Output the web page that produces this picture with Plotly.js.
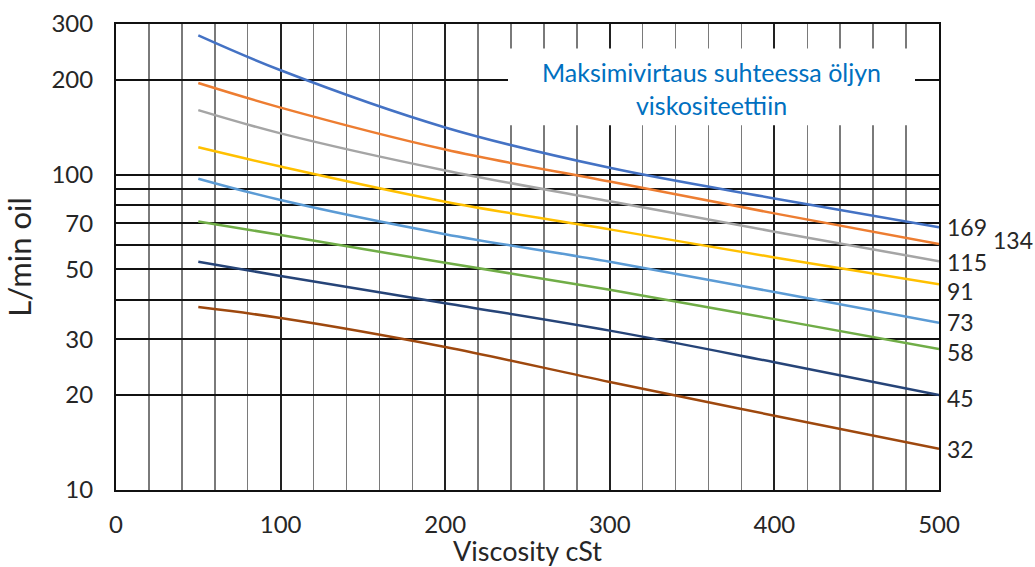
<!DOCTYPE html>
<html><head><meta charset="utf-8">
<script src="https://cdn.plot.ly/plotly-3.0.1.min.js"></script>
<style>html,body{margin:0;padding:0;background:#fff}#chart{width:1035px;height:567px}</style>
</head><body><div id="chart"></div>
<script>
// ---- data ----
const viscosity = [50, 100, 200, 300, 400, 500];
const seriesLabels = ['169', '134', '115', '91', '73', '58', '45', '32'];
const s169 = [276, 214, 141, 105, 84, 68];
const s134 = [195, 163, 120, 95, 75.3, 60.2];
const s115 = [160, 135, 103, 82.3, 65.9, 53.1];
const s91  = [122, 106, 82, 67, 54.6, 44.9];
const s73  = [97, 83, 64.7, 52.9, 42.4, 33.9];
const s58  = [71, 64.3, 52.5, 43.1, 34.8, 28];
const s45  = [52.9, 47.7, 39.1, 32, 25.4, 20];
const s32  = [38, 35.1, 28.4, 22, 17.2, 13.5];
const yTickVals = [10, 20, 30, 40, 50, 60, 70, 80, 90, 100, 200, 300];
const yTickText = ['10', '20', '30', '', '50', '', '70', '', '', '100', '200', '300'];
const xTickVals = [0, 100, 200, 300, 400, 500];
const chartTitle = 'Maksimivirtaus suhteessa öljyn<br>viskositeettiin';
const xTitle = 'Viscosity cSt';
const yTitle = 'L/min oil';

// ---- styles ----
const allSeries = [s169, s134, s115, s91, s73, s58, s45, s32];
const colors = ['#4472C4', '#ED7D31', '#A5A5A5', '#FFC000', '#5B9BD5', '#70AD47', '#264478', '#9E480E'];
const labelShift = [[6, 0], [52, 4], [6, -1], [6, -7], [6, 1], [6, -3], [6, -3], [6, 0]];
const FONT = 'Lato, "Open Sans", sans-serif';
const TXT = '#262626';

const traces = allSeries.map((ys, i) => ({
  x: viscosity, y: ys, type: 'scatter', mode: 'lines',
  line: {color: colors[i], width: 2.5, shape: 'spline', smoothing: 1},
  name: seriesLabels[i], hoverinfo: 'x+y+name'
}));

const annotations = allSeries.map((ys, i) => ({
  x: viscosity[viscosity.length - 1], y: Math.log10(ys[ys.length - 1]),
  xref: 'x', yref: 'y', text: seriesLabels[i], showarrow: false,
  xanchor: 'left', yanchor: 'middle',
  xshift: labelShift[i][0], yshift: labelShift[i][1],
  font: {family: FONT, size: 23, color: TXT}
}));

const layout = {
  width: 1035, height: 567,
  margin: {l: 116, r: 96, t: 24, b: 77},
  paper_bgcolor: '#fff', plot_bgcolor: '#fff',
  showlegend: false,
  font: {family: FONT, color: TXT},
  title: {
    text: chartTitle, xref: 'paper', x: 0.7236, xanchor: 'center',
    yref: 'container', y: 1 - 82 / 567, yanchor: 'middle',
    font: {family: FONT, size: 25, color: '#0070C0'}
  },
  xaxis: {
    range: [0, 500], tickvals: xTickVals, ticks: '',
    showgrid: true, gridcolor: '#222', gridwidth: 2,
    minor: {dtick: 20, showgrid: true, gridcolor: '#7a7a7a', gridwidth: 1.5, ticks: ''},
    zeroline: false, showline: true, linecolor: '#111', linewidth: 2, mirror: true,
    tickfont: {family: FONT, size: 24, color: TXT}, ticklabelstandoff: 12,
    title: {text: xTitle, standoff: 8, font: {family: FONT, size: 27, color: TXT}}
  },
  yaxis: {
    type: 'log', range: [1, Math.log10(300)],
    tickvals: yTickVals, ticktext: yTickText, ticks: '',
    showgrid: true, gridcolor: '#111', gridwidth: 2,
    zeroline: false, showline: true, linecolor: '#111', linewidth: 2, mirror: true,
    tickfont: {family: FONT, size: 24, color: TXT}, ticklabelstandoff: 16,
    title: {text: yTitle, standoff: 12, font: {family: FONT, size: 31, color: TXT}}
  },
  shapes: [{
    type: 'rect', xref: 'paper', yref: 'paper', layer: 'above',
    x0: (508 - 116) / 823, x1: (915 - 116) / 823,
    y0: (490.5 - 125) / 467, y1: (490.5 - 48) / 467,
    fillcolor: '#fff', line: {width: 0}
  }],
  annotations: annotations
};

Plotly.newPlot('chart', traces, layout, {displayModeBar: false, staticPlot: true});
</script>
</body></html>
